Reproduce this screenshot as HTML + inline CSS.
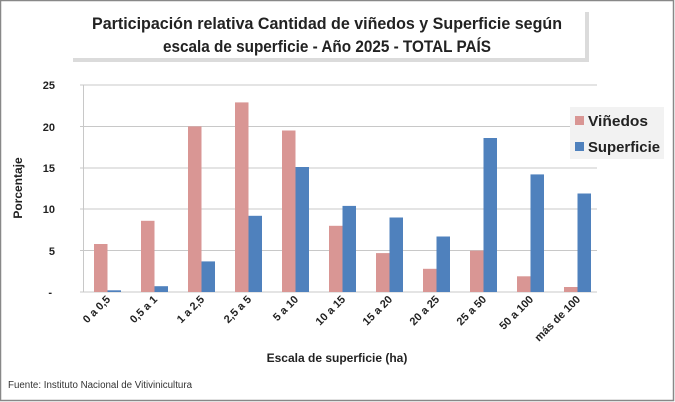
<!DOCTYPE html><html><head><meta charset="utf-8"><style>body{margin:0;background:#fff}svg{display:block;font-family:"Liberation Sans",sans-serif}</style></head><body>
<svg width="675" height="402" viewBox="0 0 675 402" xmlns="http://www.w3.org/2000/svg">
<rect x="0.5" y="0.5" width="673" height="400" fill="#fff" stroke="#888" stroke-width="1.5"/>
<rect x="73" y="12" width="516" height="50" fill="#ccc" opacity="0.7"/>
<rect x="69" y="8" width="516" height="50" fill="#fff"/>
<text x="327" y="29" text-anchor="middle" font-size="16.5" font-weight="bold" fill="#222" textLength="470" lengthAdjust="spacingAndGlyphs">Participación relativa Cantidad de viñedos y Superficie según</text>
<text x="327" y="52" text-anchor="middle" font-size="16.5" font-weight="bold" fill="#222" textLength="328" lengthAdjust="spacingAndGlyphs">escala de superficie - Año 2025 - TOTAL PAÍS</text>
<g stroke="#c8c8c8" stroke-width="1">
<line x1="80" y1="85" x2="597" y2="85"/><line x1="80" y1="126.5" x2="597" y2="126.5"/><line x1="80" y1="168" x2="597" y2="168"/><line x1="80" y1="209" x2="597" y2="209"/><line x1="80" y1="250.5" x2="597" y2="250.5"/><line x1="80" y1="292" x2="597" y2="292"/><line x1="83.5" y1="85" x2="83.5" y2="292"/>
</g>
<g font-size="11" font-weight="bold" fill="#222" text-anchor="end">
<text x="55" y="89">25</text><text x="55" y="131">20</text><text x="55" y="172">15</text><text x="55" y="213">10</text><text x="55" y="255">5</text><text x="52" y="296">-</text>
</g>
<text transform="translate(22,188) rotate(-90)" text-anchor="middle" font-size="12" font-weight="bold" fill="#222">Porcentaje</text>
<g fill="#d99694">
<rect x="94" y="244.0" width="13.5" height="48.0"/>
<rect x="141" y="220.8" width="13.5" height="71.2"/>
<rect x="188" y="126.4" width="13.5" height="165.6"/>
<rect x="235" y="102.4" width="13.5" height="189.6"/>
<rect x="282" y="130.5" width="13.5" height="161.5"/>
<rect x="329" y="225.8" width="13.5" height="66.2"/>
<rect x="376" y="253.1" width="13.5" height="38.9"/>
<rect x="423" y="268.8" width="13.5" height="23.2"/>
<rect x="470" y="250.6" width="13.5" height="41.4"/>
<rect x="517" y="276.3" width="13.5" height="15.7"/>
<rect x="564" y="287.0" width="13.5" height="5.0"/>
</g>
<g fill="#4f81bd">
<rect x="107.5" y="290.3" width="13.5" height="1.7"/>
<rect x="154.5" y="286.2" width="13.5" height="5.8"/>
<rect x="201.5" y="261.4" width="13.5" height="30.6"/>
<rect x="248.5" y="215.8" width="13.5" height="76.2"/>
<rect x="295.5" y="167.0" width="13.5" height="125.0"/>
<rect x="342.5" y="205.9" width="13.5" height="86.1"/>
<rect x="389.5" y="217.5" width="13.5" height="74.5"/>
<rect x="436.5" y="236.5" width="13.5" height="55.5"/>
<rect x="483.5" y="138.0" width="13.5" height="154.0"/>
<rect x="530.5" y="174.4" width="13.5" height="117.6"/>
<rect x="577.5" y="193.5" width="13.5" height="98.5"/>
</g>
<rect x="570" y="107" width="94" height="52" fill="#f2f2f2"/>
<rect x="575" y="116" width="9" height="9" fill="#d99694"/><text x="588" y="126" font-size="15" font-weight="bold" fill="#222" textLength="60" lengthAdjust="spacingAndGlyphs">Viñedos</text>
<rect x="575" y="142" width="9" height="9" fill="#4f81bd"/><text x="588" y="152" font-size="15" font-weight="bold" fill="#222" textLength="72" lengthAdjust="spacingAndGlyphs">Superficie</text>
<text x="337" y="362" text-anchor="middle" font-size="12" font-weight="bold" fill="#222">Escala de superficie (ha)</text>
<text x="8" y="388" font-size="10" fill="#333" textLength="184" lengthAdjust="spacingAndGlyphs">Fuente: Instituto Nacional de Vitivinicultura</text>
<g font-size="11" font-weight="bold" fill="#222" text-anchor="end">
<text transform="translate(111,300) rotate(-45)">0 a 0,5</text>
<text transform="translate(158,300) rotate(-45)">0,5 a 1</text>
<text transform="translate(205,300) rotate(-45)">1 a 2,5</text>
<text transform="translate(252,300) rotate(-45)">2,5 a 5</text>
<text transform="translate(299,300) rotate(-45)">5 a 10</text>
<text transform="translate(346,300) rotate(-45)">10 a 15</text>
<text transform="translate(393,300) rotate(-45)">15 a 20</text>
<text transform="translate(440,300) rotate(-45)">20 a 25</text>
<text transform="translate(487,300) rotate(-45)">25 a 50</text>
<text transform="translate(534,300) rotate(-45)">50 a 100</text>
<text transform="translate(581,300) rotate(-45)">más de 100</text>
</g>
</svg></body></html>
